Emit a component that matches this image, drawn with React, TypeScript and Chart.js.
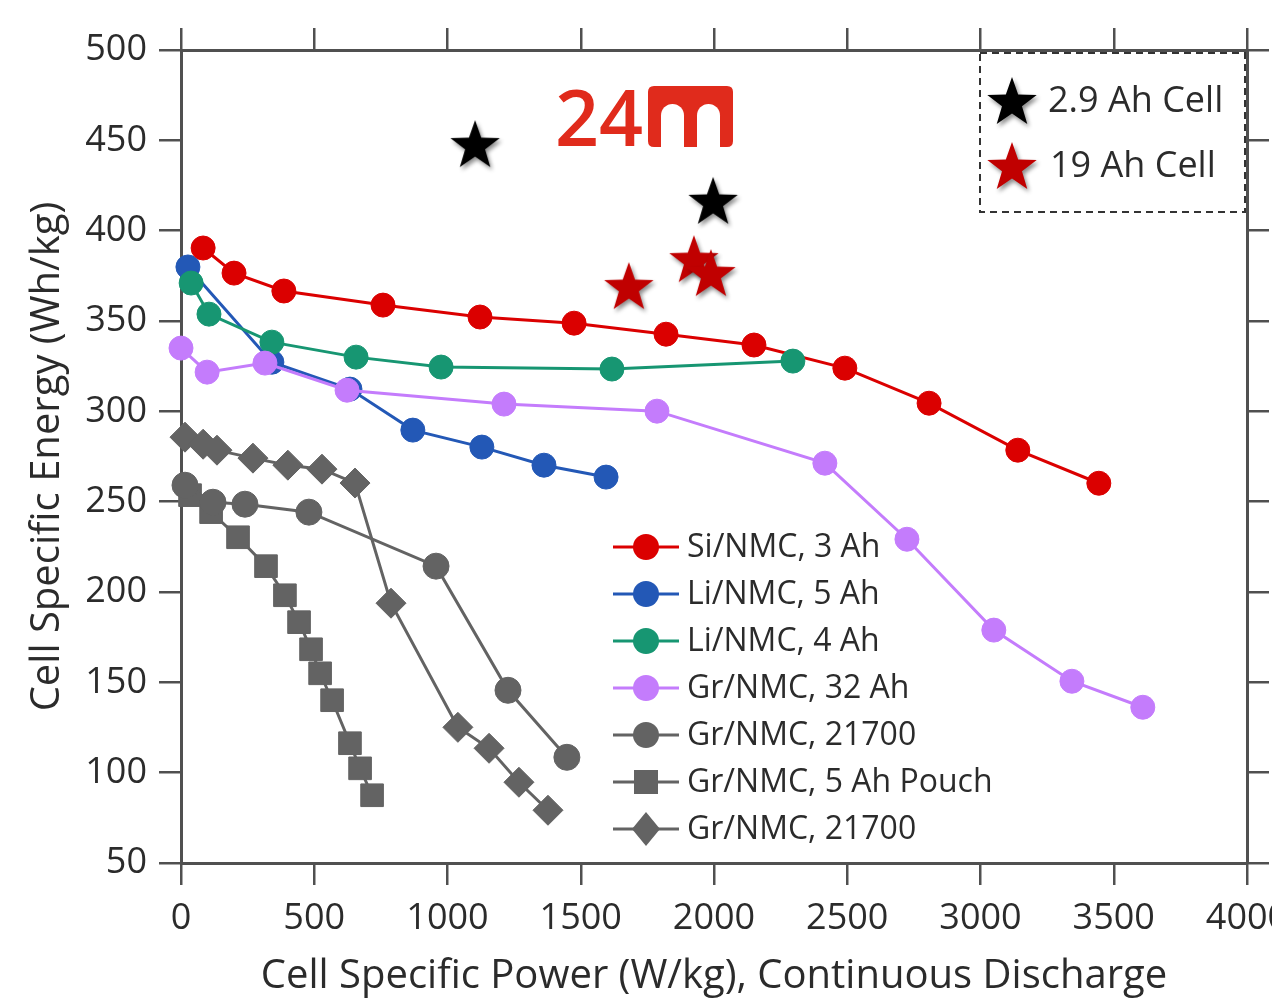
import React, { useEffect, useRef } from 'react';
import { Chart, registerables } from 'chart.js';

Chart.register(...registerables);

// ---------- data ----------
const xTickValues = [0, 500, 1000, 1500, 2000, 2500, 3000, 3500, 4000];
const yTickValues = [50, 100, 150, 200, 250, 300, 350, 400, 450, 500];

const siNmc3Power = [83, 199, 386, 758, 1122, 1475, 1820, 2150, 2491, 2807, 3140, 3444];
const siNmc3Energy = [390.4, 376.5, 366.6, 358.8, 352.2, 348.8, 342.7, 336.7, 323.9, 304.5, 278.5, 260.2];

const liNmc5Power = [26, 341, 634, 870, 1129, 1362, 1595];
const liNmc5Energy = [379.9, 327.2, 312.3, 289.6, 280.2, 270.2, 263.6];

const liNmc4Power = [38, 105, 341, 657, 976, 1617, 2296];
const liNmc4Energy = [371, 353.8, 338.3, 330, 324.5, 323.4, 327.8];

const grNmc32Power = [0, 98, 315, 623, 1212, 1786, 2416, 2724, 3050, 3343, 3609];
const grNmc32Energy = [335, 321.7, 326.7, 311.7, 304, 300.1, 271.3, 229.2, 178.9, 150.6, 136.2];

const grNmc21700aPower = [15, 120, 240, 480, 957, 1227, 1448];
const grNmc21700aEnergy = [259.1, 249.7, 248.6, 244.2, 214.3, 145.6, 108.5];

const grNmcPouchPower = [34, 113, 214, 319, 390, 443, 488, 522, 567, 634, 672, 717];
const grNmcPouchEnergy = [253.6, 244.2, 230.3, 214.3, 198.2, 183.3, 168.3, 155, 140.1, 116.3, 102.4, 87.5];

const grNmc21700bPower = [15, 83, 135, 270, 401, 529, 653, 788, 1039, 1156, 1268, 1377];
const grNmc21700bEnergy = [285.7, 281.8, 278.5, 274.1, 270.2, 268, 260.3, 193.8, 125.1, 113.5, 94.7, 79.2];

const cell29Power = [1111, 2004];
const cell29Energy = [445.7, 414.3];

const cell19Power = [1688, 1932, 1996];
const cell19Energy = [367.1, 382, 374.3];

const seriesLabels = [
  'Si/NMC, 3 Ah',
  'Li/NMC, 5 Ah',
  'Li/NMC, 4 Ah',
  'Gr/NMC, 32 Ah',
  'Gr/NMC, 21700',
  'Gr/NMC, 5 Ah Pouch',
  'Gr/NMC, 21700',
];
const starLabels = ['2.9 Ah Cell', '19 Ah Cell'];

const xTitle = 'Cell Specific Power (W/kg), Continuous Discharge';
const yTitle = 'Cell Specific Energy (Wh/kg)';

// ---------- styles ----------
const RED = '#db0000';
const BLUE = '#2358b6';
const GREEN = '#179672';
const PURPLE = '#c47cfc';
const GRAY = '#636363';
const STAR_RED = '#c00000';
const LOGO_RED = '#e02b1c';
const AXIS = '#505050';
const TEXT = '#2b2b2b';
const FONT = "'Open Sans', 'DejaVu Sans', sans-serif";

const seriesColors = [RED, BLUE, GREEN, PURPLE, GRAY, GRAY, GRAY];
const seriesShapes = ['circle', 'circle', 'circle', 'circle', 'circle', 'rect', 'rectRot'];

function pts(xs: number[], ys: number[]) {
  return xs.map((x, i) => ({ x, y: ys[i] }));
}

function makeStar(color: string): HTMLCanvasElement {
  const c = document.createElement('canvas');
  c.width = 64;
  c.height = 64;
  const g = c.getContext('2d')!;
  const cx = 30, cy = 30, R = 26, r = 10.5;
  g.shadowColor = 'rgba(0,0,0,0.45)';
  g.shadowBlur = 4;
  g.shadowOffsetX = 2;
  g.shadowOffsetY = 3;
  g.beginPath();
  for (let i = 0; i < 10; i++) {
    const ang = -Math.PI / 2 + (i * Math.PI) / 5;
    const rad = i % 2 === 0 ? R : r;
    const px = cx + rad * Math.cos(ang);
    const py = cy + rad * Math.sin(ang);
    if (i === 0) g.moveTo(px, py);
    else g.lineTo(px, py);
  }
  g.closePath();
  g.fillStyle = color;
  g.fill();
  return c;
}

function drawMarker(ctx: CanvasRenderingContext2D, shape: string, x: number, y: number, color: string) {
  ctx.fillStyle = color;
  ctx.beginPath();
  if (shape === 'circle') {
    ctx.arc(x, y, 13, 0, Math.PI * 2);
  } else if (shape === 'rect') {
    ctx.rect(x - 12, y - 12, 24, 24);
  } else {
    ctx.moveTo(x, y - 17);
    ctx.lineTo(x + 14, y);
    ctx.lineTo(x, y + 17);
    ctx.lineTo(x - 14, y);
    ctx.closePath();
  }
  ctx.fill();
}

export default function App() {
  const ref = useRef<HTMLCanvasElement | null>(null);

  useEffect(() => {
    if (!ref.current) return;
    const blackStar = makeStar('#000000');
    const redStar = makeStar(STAR_RED);

    const lineDs = (i: number, xs: number[], ys: number[], order: number, radius: number) => ({
      label: seriesLabels[i],
      data: pts(xs, ys),
      showLine: true,
      borderColor: seriesColors[i],
      backgroundColor: seriesColors[i],
      borderWidth: 3,
      pointStyle: seriesShapes[i],
      pointRadius: radius,
      pointBorderWidth: 1,
      pointBorderColor: seriesColors[i],
      pointBackgroundColor: seriesColors[i],
      clip: false as any,
      order,
    });

    const decor = {
      id: 'decor',
      afterDraw(chart: any) {
        const ctx: CanvasRenderingContext2D = chart.ctx;
        ctx.save();
        // ---- logo ----
        ctx.fillStyle = LOGO_RED;
        ctx.font = `600 77px ${FONT}`;
        ctx.textBaseline = 'alphabetic';
        ctx.textAlign = 'left';
        ctx.fillText('24', 555, 146);
        const bx = 648, by = 86, bw = 85, bh = 61, br = 6;
        ctx.beginPath();
        ctx.moveTo(bx + br, by);
        ctx.lineTo(bx + bw - br, by);
        ctx.quadraticCurveTo(bx + bw, by, bx + bw, by + br);
        ctx.lineTo(bx + bw, by + bh - br);
        ctx.quadraticCurveTo(bx + bw, by + bh, bx + bw - br, by + bh);
        ctx.lineTo(bx + br, by + bh);
        ctx.quadraticCurveTo(bx, by + bh, bx, by + bh - br);
        ctx.lineTo(bx, by + br);
        ctx.quadraticCurveTo(bx, by, bx + br, by);
        ctx.closePath();
        ctx.fill();
        ctx.fillStyle = '#ffffff';
        const counters = [[661, 684], [697, 720]];
        counters.forEach(([a, b]) => {
          const w = b - a;
          const top = 104;
          ctx.beginPath();
          ctx.moveTo(a, by + bh + 1);
          ctx.lineTo(a, top + w / 2);
          ctx.arc(a + w / 2, top + w / 2, w / 2, Math.PI, 0);
          ctx.lineTo(b, by + bh + 1);
          ctx.closePath();
          ctx.fill();
        });

        // ---- star legend box ----
        ctx.strokeStyle = '#333333';
        ctx.lineWidth = 2;
        ctx.setLineDash([7, 5]);
        ctx.strokeRect(980, 53, 265, 159);
        ctx.setLineDash([]);
        ctx.drawImage(blackStar, 1012 - 30, 103 - 30);
        ctx.drawImage(redStar, 1012 - 30, 168 - 30);
        ctx.fillStyle = TEXT;
        ctx.font = `36px ${FONT}`;
        ctx.textBaseline = 'middle';
        ctx.fillText(starLabels[0], 1048, 102);
        ctx.fillText(starLabels[1], 1050, 167);

        // ---- series legend ----
        const y0 = 547, dy = 47;
        ctx.font = `32px ${FONT}`;
        seriesLabels.forEach((lab, i) => {
          const y = y0 + i * dy;
          const c = seriesColors[i];
          ctx.strokeStyle = c;
          ctx.lineWidth = 3;
          ctx.beginPath();
          ctx.moveTo(613, y);
          ctx.lineTo(679, y);
          ctx.stroke();
          drawMarker(ctx, seriesShapes[i], 646, y, c);
          ctx.fillStyle = TEXT;
          ctx.fillText(lab, 687, y + 1);
        });
        ctx.restore();
      },
    };

    const axisCommon = {
      type: 'linear' as const,
      border: { display: true, color: AXIS, width: 3 },
      grid: { drawOnChartArea: false, drawTicks: true, tickLength: 22, color: AXIS, lineWidth: 2.5 },
    };

    const chart = new Chart(ref.current, {
      type: 'scatter',
      data: {
        datasets: [
          {
            label: starLabels[0],
            data: pts(cell29Power, cell29Energy),
            pointStyle: blackStar as any,
            showLine: false,
            clip: false as any,
            order: -2,
          } as any,
          {
            label: starLabels[1],
            data: pts(cell19Power, cell19Energy),
            pointStyle: redStar as any,
            showLine: false,
            clip: false as any,
            order: -1,
          } as any,
          lineDs(3, grNmc32Power, grNmc32Energy, 0, 12),
          lineDs(2, liNmc4Power, liNmc4Energy, 1, 12),
          lineDs(0, siNmc3Power, siNmc3Energy, 2, 12),
          lineDs(1, liNmc5Power, liNmc5Energy, 3, 12),
          lineDs(4, grNmc21700aPower, grNmc21700aEnergy, 4, 13),
          lineDs(5, grNmcPouchPower, grNmcPouchEnergy, 6, 16),
          lineDs(6, grNmc21700bPower, grNmc21700bEnergy, 5, 15),
        ] as any,
      },
      options: {
        responsive: false,
        animation: false,
        devicePixelRatio: 1,
        layout: { padding: 0 },
        plugins: { legend: { display: false }, tooltip: { enabled: false } },
        scales: {
          x: {
            ...axisCommon,
            position: 'bottom',
            min: 0,
            max: 4000,
            afterBuildTicks: (s: any) => { s.ticks = xTickValues.map((v) => ({ value: v })); },
            ticks: {
              color: TEXT,
              font: { family: FONT, size: 36 },
              padding: 12,
              maxRotation: 0,
              autoSkip: false,
              callback: (v: any) => String(v),
            },
            title: { display: true, text: xTitle, color: TEXT, font: { family: FONT, size: 40 }, padding: { top: 0, bottom: 2 } },
            afterFit: (s: any) => { s.height = 140; s.paddingLeft = 0; s.paddingRight = 0; },
          },
          x2: {
            ...axisCommon,
            position: 'top',
            min: 0,
            max: 4000,
            afterBuildTicks: (s: any) => { s.ticks = xTickValues.map((v) => ({ value: v })); },
            ticks: { display: false },
            afterFit: (s: any) => { s.height = 50; s.paddingLeft = 0; s.paddingRight = 0; },
          },
          y: {
            ...axisCommon,
            position: 'left',
            min: 50,
            max: 500,
            afterBuildTicks: (s: any) => { s.ticks = yTickValues.map((v) => ({ value: v })); },
            ticks: { color: TEXT, font: { family: FONT, size: 36 }, padding: 12, autoSkip: false, callback: (v: any) => String(v) },
            title: { display: true, text: yTitle, color: TEXT, font: { family: FONT, size: 40 }, padding: { top: 24, bottom: 0 } },
            afterFit: (s: any) => { s.width = 181; s.paddingTop = 0; s.paddingBottom = 0; },
          },
          y2: {
            ...axisCommon,
            position: 'right',
            min: 50,
            max: 500,
            afterBuildTicks: (s: any) => { s.ticks = yTickValues.map((v) => ({ value: v })); },
            ticks: { display: false },
            afterFit: (s: any) => { s.width = 25; s.paddingTop = 0; s.paddingBottom = 0; },
          },
        } as any,
      },
      plugins: [decor],
    });

    return () => chart.destroy();
  }, []);

  return (
    <div style={{ position: 'absolute', left: 0, top: 0, width: 1272, height: 1003, background: '#ffffff' }}>
      <canvas ref={ref} width={1272} height={1003} style={{ display: 'block', width: 1272, height: 1003 }} />
    </div>
  );
}
